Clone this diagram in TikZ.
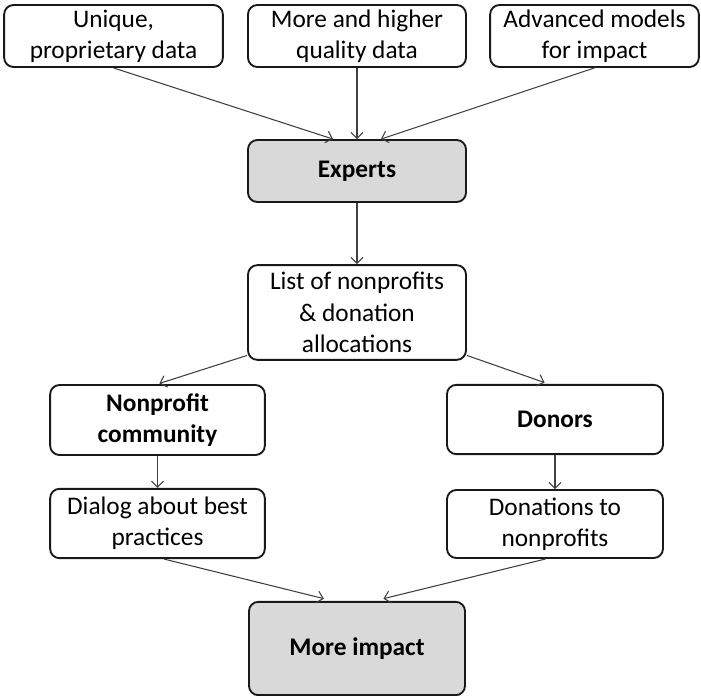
\documentclass[tikz,border=0pt]{standalone}
\usepackage{fontspec}
\setmainfont{Carlito}
\usetikzlibrary{arrows.meta,positioning}
\tikzset{box/.style={draw=black!90, line width=1.4pt, rounded corners=7pt, fill=white, align=center, inner sep=0pt, font=\fontsize{19}{23.5}\selectfont}}
\tikzset{boldbox/.style={box, font=\fontsize{19}{23.5}\selectfont\bfseries}}
\tikzset{keybox/.style={boldbox, fill=black!15}}
\tikzset{arc/.style={draw=black!75, line width=0.8pt, -{Straight Barb[length=4.5pt,width=9pt]}}}

\begin{document}
\begin{tikzpicture}[x=0.75pt, y=-0.75pt]
\useasboundingbox (0,0) rectangle (701,696);
% sources
\node (uq) at (113.5,36)[box, minimum width=164pt, minimum height=46.5pt]{Unique,\\proprietary data};
\node (hq) at (357,36)[box, minimum width=163.5pt, minimum height=46.5pt]{More and higher\\quality data};
\node (am) at (594.5,36)[box, minimum width=156.5pt, minimum height=46.5pt]{Advanced models\\for impact};
\node (ex) at (357,171)[keybox, minimum width=163.5pt, minimum height=46.5pt]{Experts};
\node (ls) at (357,312.5)[box, minimum width=163.5pt, minimum height=71pt]{List of nonprofits\\\&~donation\\allocations};

% two branches
\node (np) at (157.5,420)[boldbox, minimum width=161pt, minimum height=52.5pt]{Nonprofit\\community};
\node (dn) at (555,419.5)[boldbox, minimum width=162pt, minimum height=52pt]{Donors};
\node (dl) at (157.5,523.5)[box, minimum width=161pt, minimum height=52pt]{Dialog about best\\practices};
\node (dt) at (555,524)[box, minimum width=162pt, minimum height=51pt]{Donations to\\nonprofits};
\node (mi) at (357,648.5)[keybox, minimum width=162pt, minimum height=70pt]{More impact};

\draw[arc] (uq.south)--([xshift=-18pt]ex.north);
\draw[arc] (hq.south)--(ex.north);
\draw[arc] (am.south)--([xshift=18pt]ex.north);
\draw[arc] (ex.south)--(ls.north);
\draw[arc, shorten >=1.5pt] ([yshift=4pt]ls.south west)--(np.north);
\draw[arc, shorten >=3pt] ([yshift=4pt]ls.south east)--([xshift=-5pt]dn.north);
\draw[arc] (np.south)--(dl.north);
\draw[arc] (dn.south)--(dt.north);
\draw[arc, shorten >=7pt] ([xshift=5pt]dl.south)--([xshift=-18pt]mi.north);
\draw[arc, shorten >=7pt] ([xshift=-7pt]dt.south)--([xshift=13pt]mi.north);
\end{tikzpicture}
\end{document}
